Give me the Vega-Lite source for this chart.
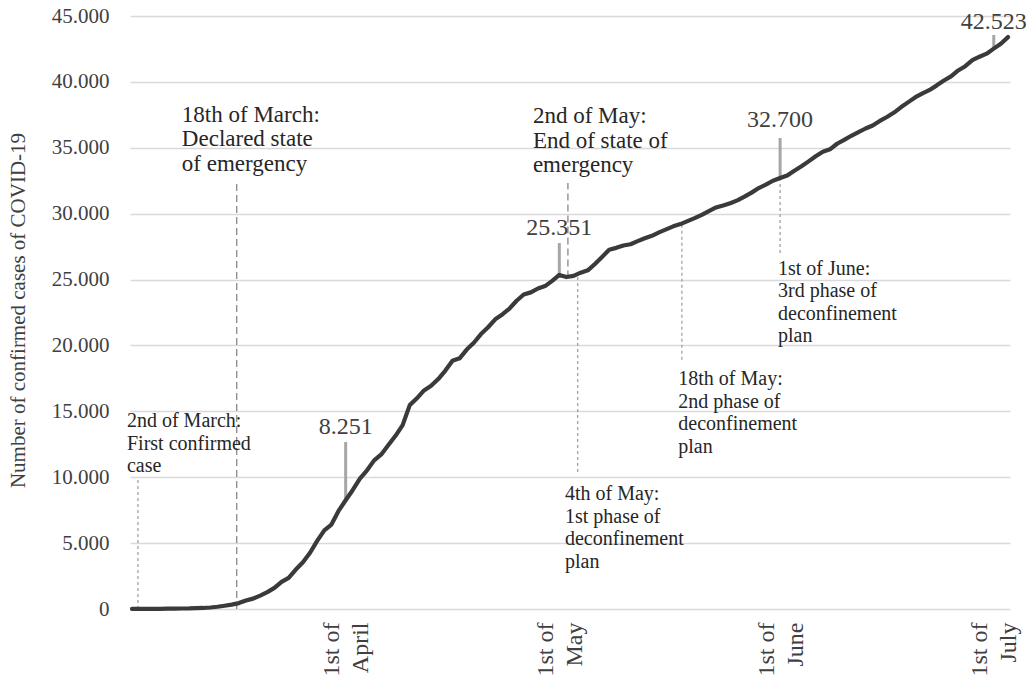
{
  "$schema": "https://vega.github.io/schema/vega-lite/v6.json",
  "width": 880,
  "height": 593,
  "autosize": "none",
  "padding": {"left": 130, "top": 16, "right": 17, "bottom": 71},
  "background": "white",
  "config": {
    "view": {"stroke": null},
    "font": "Liberation Serif"
  },
  "datasets": {
    "cases": [
      {"date": "2020-03-02", "value": 2}, {"date": "2020-03-03", "value": 4}, {"date": "2020-03-04", "value": 6},
      {"date": "2020-03-05", "value": 9}, {"date": "2020-03-06", "value": 13}, {"date": "2020-03-07", "value": 21},
      {"date": "2020-03-08", "value": 30}, {"date": "2020-03-09", "value": 39}, {"date": "2020-03-10", "value": 41},
      {"date": "2020-03-11", "value": 59}, {"date": "2020-03-12", "value": 78}, {"date": "2020-03-13", "value": 112},
      {"date": "2020-03-14", "value": 169}, {"date": "2020-03-15", "value": 245}, {"date": "2020-03-16", "value": 331},
      {"date": "2020-03-17", "value": 448}, {"date": "2020-03-18", "value": 642}, {"date": "2020-03-19", "value": 785},
      {"date": "2020-03-20", "value": 1020}, {"date": "2020-03-21", "value": 1280}, {"date": "2020-03-22", "value": 1600},
      {"date": "2020-03-23", "value": 2060}, {"date": "2020-03-24", "value": 2362}, {"date": "2020-03-25", "value": 2995},
      {"date": "2020-03-26", "value": 3544}, {"date": "2020-03-27", "value": 4268}, {"date": "2020-03-28", "value": 5170},
      {"date": "2020-03-29", "value": 5962}, {"date": "2020-03-30", "value": 6408}, {"date": "2020-03-31", "value": 7443},
      {"date": "2020-04-01", "value": 8251}, {"date": "2020-04-02", "value": 9034}, {"date": "2020-04-03", "value": 9886},
      {"date": "2020-04-04", "value": 10524}, {"date": "2020-04-05", "value": 11278}, {"date": "2020-04-06", "value": 11730},
      {"date": "2020-04-07", "value": 12442}, {"date": "2020-04-08", "value": 13141}, {"date": "2020-04-09", "value": 13956},
      {"date": "2020-04-10", "value": 15472}, {"date": "2020-04-11", "value": 15987}, {"date": "2020-04-12", "value": 16585},
      {"date": "2020-04-13", "value": 16934}, {"date": "2020-04-14", "value": 17448}, {"date": "2020-04-15", "value": 18091},
      {"date": "2020-04-16", "value": 18841}, {"date": "2020-04-17", "value": 19022}, {"date": "2020-04-18", "value": 19685},
      {"date": "2020-04-19", "value": 20206}, {"date": "2020-04-20", "value": 20863}, {"date": "2020-04-21", "value": 21379},
      {"date": "2020-04-22", "value": 21982}, {"date": "2020-04-23", "value": 22353}, {"date": "2020-04-24", "value": 22797},
      {"date": "2020-04-25", "value": 23392}, {"date": "2020-04-26", "value": 23864}, {"date": "2020-04-27", "value": 24027},
      {"date": "2020-04-28", "value": 24322}, {"date": "2020-04-29", "value": 24505}, {"date": "2020-04-30", "value": 24900},
      {"date": "2020-05-01", "value": 25351}, {"date": "2020-05-02", "value": 25190}, {"date": "2020-05-03", "value": 25282},
      {"date": "2020-05-04", "value": 25524}, {"date": "2020-05-05", "value": 25702}, {"date": "2020-05-06", "value": 26182},
      {"date": "2020-05-07", "value": 26715}, {"date": "2020-05-08", "value": 27268}, {"date": "2020-05-09", "value": 27406},
      {"date": "2020-05-10", "value": 27581}, {"date": "2020-05-11", "value": 27679}, {"date": "2020-05-12", "value": 27913},
      {"date": "2020-05-13", "value": 28132}, {"date": "2020-05-14", "value": 28319}, {"date": "2020-05-15", "value": 28583},
      {"date": "2020-05-16", "value": 28810}, {"date": "2020-05-17", "value": 29036}, {"date": "2020-05-18", "value": 29209},
      {"date": "2020-05-19", "value": 29432}, {"date": "2020-05-20", "value": 29660}, {"date": "2020-05-21", "value": 29912},
      {"date": "2020-05-22", "value": 30200}, {"date": "2020-05-23", "value": 30471}, {"date": "2020-05-24", "value": 30623},
      {"date": "2020-05-25", "value": 30788}, {"date": "2020-05-26", "value": 31007}, {"date": "2020-05-27", "value": 31292},
      {"date": "2020-05-28", "value": 31596}, {"date": "2020-05-29", "value": 31946}, {"date": "2020-05-30", "value": 32203},
      {"date": "2020-05-31", "value": 32500}, {"date": "2020-06-01", "value": 32700}, {"date": "2020-06-02", "value": 32895},
      {"date": "2020-06-03", "value": 33261}, {"date": "2020-06-04", "value": 33592}, {"date": "2020-06-05", "value": 33969},
      {"date": "2020-06-06", "value": 34351}, {"date": "2020-06-07", "value": 34693}, {"date": "2020-06-08", "value": 34885},
      {"date": "2020-06-09", "value": 35306}, {"date": "2020-06-10", "value": 35600}, {"date": "2020-06-11", "value": 35910},
      {"date": "2020-06-12", "value": 36180}, {"date": "2020-06-13", "value": 36463}, {"date": "2020-06-14", "value": 36690},
      {"date": "2020-06-15", "value": 37036}, {"date": "2020-06-16", "value": 37336}, {"date": "2020-06-17", "value": 37672},
      {"date": "2020-06-18", "value": 38089}, {"date": "2020-06-19", "value": 38464}, {"date": "2020-06-20", "value": 38841},
      {"date": "2020-06-21", "value": 39133}, {"date": "2020-06-22", "value": 39392}, {"date": "2020-06-23", "value": 39737},
      {"date": "2020-06-24", "value": 40104}, {"date": "2020-06-25", "value": 40415}, {"date": "2020-06-26", "value": 40866},
      {"date": "2020-06-27", "value": 41189}, {"date": "2020-06-28", "value": 41646}, {"date": "2020-06-29", "value": 41912},
      {"date": "2020-06-30", "value": 42141}, {"date": "2020-07-01", "value": 42523}, {"date": "2020-07-02", "value": 42900},
      {"date": "2020-07-03", "value": 43400}
    ],
    "events": [
      {"date": "2020-03-02T20:00:00Z", "value": 0, "value2": 9940, "style": "dotted"},
      {"date": "2020-03-16T17:00:00Z", "value": 0, "value2": 32330, "style": "dashed"},
      {"date": "2020-05-02T05:00:00Z", "value": 25150, "value2": 32330, "style": "dashed"},
      {"date": "2020-05-03T14:00:00Z", "value": 25200, "value2": 10170, "style": "dotted"},
      {"date": "2020-05-18T05:00:00Z", "value": 29150, "value2": 18900, "style": "dotted"},
      {"date": "2020-06-01T00:00:00Z", "value": 32700, "value2": 26860, "style": "dotted"}
    ],
    "markers": [
      {"date": "2020-04-01", "value": 8251, "value2": 12670},
      {"date": "2020-05-01", "value": 25351, "value2": 27770},
      {"date": "2020-06-01", "value": 32700, "value2": 35740},
      {"date": "2020-07-01", "value": 42523, "value2": 43560}
    ],
    "valueLabels": [
      {"date": "2020-04-01", "value": 13810, "label": "8.251"},
      {"date": "2020-05-01", "value": 28910, "label": "25.351"},
      {"date": "2020-06-01", "value": 37110, "label": "32.700"},
      {"date": "2020-07-01", "value": 44540, "label": "42.523"}
    ],
    "notesLarge": [
      {"date": "2020-03-09T00:00:00Z", "value": 36994, "label": ["18th of March:", "Declared state", "of emergency"]},
      {"date": "2020-04-27T07:00:00Z", "value": 36880, "label": ["2nd of May:", "End of state of", "emergency"]}
    ],
    "notes": [
      {"date": "2020-03-01T07:00:00Z", "value": 15025, "label": ["2nd of March:", "First confirmed", "case"]},
      {"date": "2020-05-01T19:00:00Z", "value": 9485, "label": ["4th of May:", "1st phase of", "deconfinement", "plan"]},
      {"date": "2020-05-17T17:00:00Z", "value": 18210, "label": ["18th of May:", "2nd phase of", "deconfinement", "plan"]},
      {"date": "2020-05-31T17:00:00Z", "value": 26560, "label": ["1st of June:", "3rd phase of", "deconfinement", "plan"]}
    ]
  },
  "encoding": {
    "x": {
      "field": "date",
      "type": "temporal",
      "scale": {"type": "utc", "domain": [1583083008000, 1593758592000]},
      "axis": {
        "values": [1585699200000, 1588291200000, 1590969600000, 1593561600000],
        "labelExpr": "['1st of', utcFormat(datum.value, '%B')]",
        "labelAngle": -90,
        "labelAlign": "right",
        "labelBaseline": "middle",
        "labelFontSize": 24,
        "labelLineHeight": 29,
        "labelColor": "#404040",
        "labelPadding": 13,
        "labelOffset": -14,
        "labelOverlap": false,
        "labelFlush": false,
        "domain": false,
        "ticks": false,
        "grid": false,
        "title": null
      }
    },
    "y": {
      "field": "value",
      "type": "quantitative",
      "scale": {"domain": [0, 45000], "nice": false},
      "axis": {
        "values": [0, 5000, 10000, 15000, 20000, 25000, 30000, 35000, 40000, 45000],
        "labelExpr": "replace(format(datum.value, ','), ',', '.')",
        "grid": true,
        "gridColor": "#d9d9d9",
        "gridWidth": 1.5,
        "domain": false,
        "ticks": false,
        "labelFontSize": 21,
        "labelColor": "#404040",
        "labelPadding": 21,
        "title": "Number of confirmed cases of COVID-19",
        "titleFontSize": 21,
        "titleFontWeight": "normal",
        "titleColor": "#404040",
        "titleAngle": -90,
        "titleX": -112,
        "titleY": 294,
        "titleAlign": "center",
        "titleBaseline": "middle"
      }
    }
  },
  "layer": [
    {
      "data": {"name": "events"},
      "transform": [{"filter": "datum.style == 'dashed'"}],
      "mark": {"type": "rule", "color": "#7f7f7f", "strokeWidth": 1.2, "strokeDash": [7, 4]},
      "encoding": {"y2": {"field": "value2"}}
    },
    {
      "data": {"name": "events"},
      "transform": [{"filter": "datum.style == 'dotted'"}],
      "mark": {"type": "rule", "color": "#9a9a9a", "strokeWidth": 1.2, "strokeDash": [3, 3]},
      "encoding": {"y2": {"field": "value2"}}
    },
    {
      "data": {"name": "markers"},
      "mark": {"type": "rule", "color": "#a6a6a6", "strokeWidth": 3},
      "encoding": {"y2": {"field": "value2"}}
    },
    {
      "data": {"name": "cases"},
      "mark": {"type": "line", "color": "#3a3a3a", "strokeWidth": 4.2, "strokeCap": "round", "strokeJoin": "round"}
    },
    {
      "data": {"name": "valueLabels"},
      "mark": {"type": "text", "fontSize": 24, "color": "#404040", "align": "center", "baseline": "middle"},
      "encoding": {"text": {"field": "label", "type": "nominal"}}
    },
    {
      "data": {"name": "notesLarge"},
      "mark": {"type": "text", "fontSize": 23, "color": "#262626", "align": "left", "baseline": "alphabetic", "lineHeight": 24.5},
      "encoding": {"text": {"field": "label", "type": "nominal"}}
    },
    {
      "data": {"name": "notes"},
      "mark": {"type": "text", "fontSize": 20, "color": "#262626", "align": "left", "baseline": "top", "lineHeight": 22.5},
      "encoding": {"text": {"field": "label", "type": "nominal"}}
    }
  ]
}
